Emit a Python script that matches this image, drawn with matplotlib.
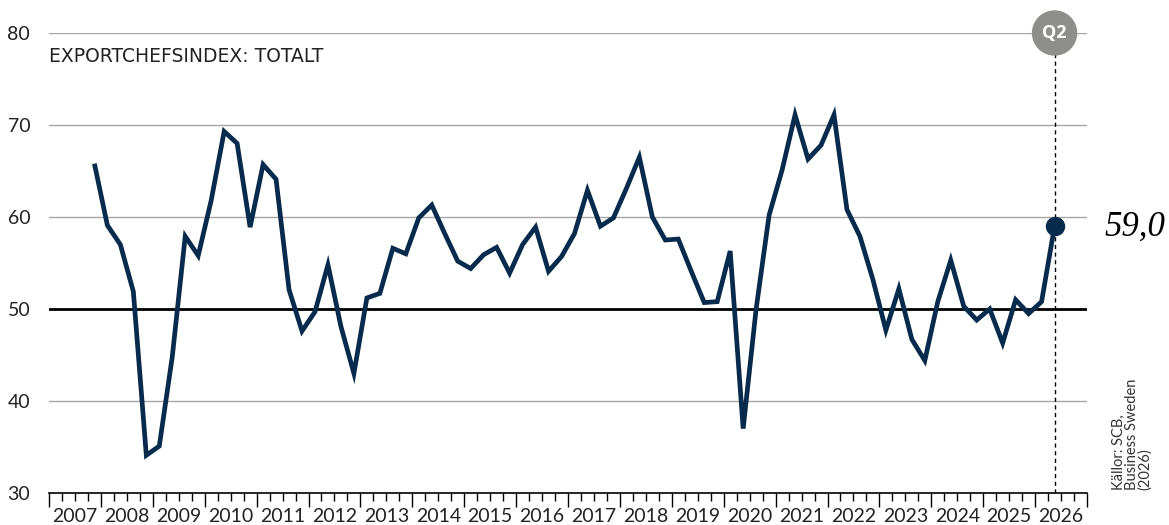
#!/usr/bin/env python3
import pandas as pd
import matplotlib.pyplot as plt
import matplotlib.transforms as mtransforms
from matplotlib.patches import Ellipse

# Exportchefsindex, quarterly, 2007 Q4 - 2026 Q2
quarters = pd.period_range('2007Q4', '2026Q2', freq='Q')
values = [65.8, 59.1, 57.0, 51.9, 34.1, 35.1, 44.8, 57.9, 55.8, 61.8,
          69.3, 68.0, 58.9, 65.7, 64.1, 52.1, 47.6, 49.7, 54.8, 48.1,
          43.0, 51.2, 51.7, 56.6, 56.0, 59.9, 61.3, 58.2, 55.2, 54.4,
          55.9, 56.7, 53.9, 57.0, 58.9, 54.1, 55.7, 58.2, 62.9, 59.0,
          59.9, 63.1, 66.5, 60.0, 57.5, 57.6, 54.1, 50.7, 50.8, 56.3,
          37.0, 50.0, 60.2, 65.1, 71.1, 66.3, 67.8, 71.1, 60.8, 57.9,
          53.2, 47.7, 52.2, 46.7, 44.4, 50.8, 55.3, 50.3, 48.8, 50.0,
          46.3, 51.0, 49.5, 50.8, 59.0]
years = list(range(2007, 2027))
yticks = [30, 40, 50, 60, 70, 80]
title = 'EXPORTCHEFSINDEX: TOTALT'
source = 'Källor: SCB,\nBusiness Sweden\n(2026)'
last_label = '59,0'
marker_label = 'Q2'

NAVY = '#072b4d'
GRID = '#a6a6a6'
CIRCLE = '#8e8e8a'

plt.rcParams['font.family'] = ['Lato', 'DejaVu Sans']

x = [q.year + (q.quarter - 0.5) / 4 for q in quarters]

fig = plt.figure(figsize=(11.69, 5.25), dpi=100)
ax = fig.add_axes([49 / 1169, 32 / 525, 1038 / 1169, 460 / 525])
ax.set_xlim(years[0], years[-1] + 1)
ax.set_ylim(30, 80)

# grid lines
for v in yticks[1:]:
    if v == 50:
        ax.axhline(v, color='black', lw=2.0, zorder=2)
    else:
        ax.axhline(v, color=GRID, lw=1.0, zorder=1)

# marker for latest quarter
xq = x[-1]
ax.plot([xq, xq], [30, 78], color='black', lw=1.0, ls=(0, (3, 2.5)), zorder=2)
circ_w = 44 / 1038 * (ax.get_xlim()[1] - ax.get_xlim()[0])
circ_h = 44 / 460 * 50
ax.add_patch(Ellipse((xq, 80), circ_w, circ_h, color=CIRCLE, zorder=5, clip_on=False))
ax.text(xq, 80, marker_label, color='white', fontsize=13, fontweight='bold',
        family='Open Sans', ha='center', va='center', zorder=6)

ax.plot(x, values, color=NAVY, lw=3.4, solid_joinstyle='miter',
        solid_capstyle='butt', zorder=3)
ax.plot(x[-1], values[-1], 'o', color=NAVY, ms=13, zorder=4, clip_on=False)
ax.annotate(last_label, (x[-1], values[-1]), xytext=(36, -1), textcoords='offset points',
            ha='left', va='center', fontsize=25, fontstyle='italic',
            family='Liberation Serif', color='black', annotation_clip=False)

# axes
for s in ['top', 'right', 'left']:
    ax.spines[s].set_visible(False)
ax.spines['bottom'].set_linewidth(1.2)
ax.set_yticks(yticks)
ax.set_yticklabels([str(v) for v in yticks], fontsize=14, color='#222222')
ax.tick_params(axis='y', length=0, pad=13.5)

ax.set_xticks(years + [years[-1] + 1])
ax.set_xticklabels([])
ax.set_xticks([y + q / 4 for y in years for q in (1, 2, 3)], minor=True)
ax.tick_params(axis='x', which='major', direction='out', length=10, width=1.0)
ax.tick_params(axis='x', which='minor', direction='out', length=6, width=1.0)

trans = mtransforms.blended_transform_factory(ax.transData, ax.transAxes)
for yr in years:
    ax.text(yr + 0.5, -0.052, str(yr), transform=trans, ha='center', va='center',
            fontsize=14, color='#222222')

ax.text(0.0, 0.948, title, transform=ax.transAxes, ha='left', va='center',
        fontsize=13.5, family='DejaVu Sans', color='#222222')

fig.text(1112 / 1169, 35 / 525, source, rotation=90, ha='left', va='bottom',
         fontsize=10.5, linespacing=0.9, color='#333333')

fig.savefig('out.png', dpi=100)
